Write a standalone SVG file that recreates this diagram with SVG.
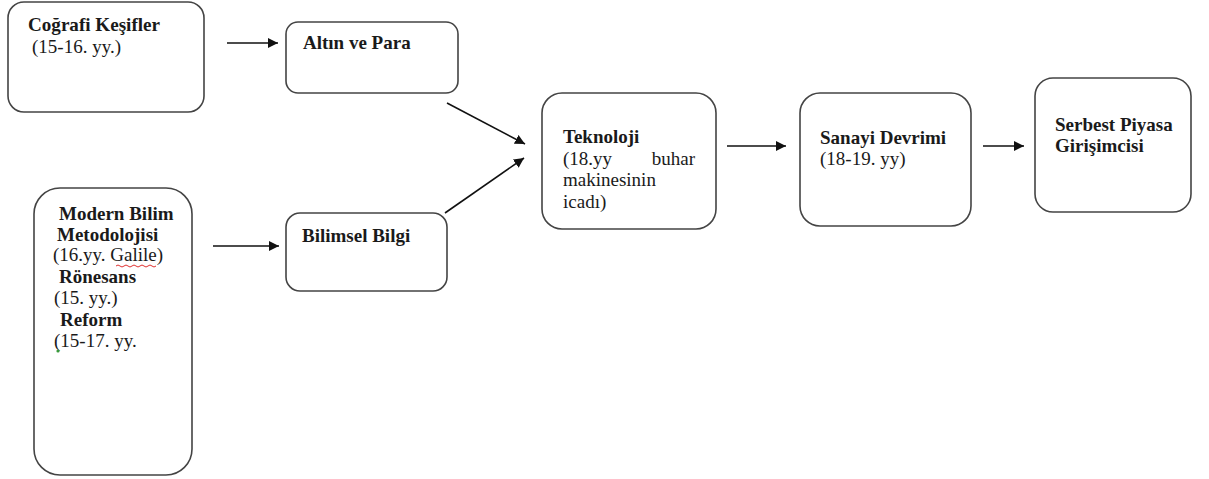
<svg xmlns="http://www.w3.org/2000/svg" width="1209" height="479" viewBox="0 0 1209 479">
<defs>
<marker id="ah" viewBox="0 0 10 10" refX="10" refY="5" markerWidth="10" markerHeight="10" markerUnits="userSpaceOnUse" orient="auto">
<path d="M0,0 L10,5 L0,10 z" fill="#111"/>
</marker>
</defs>
<rect width="1209" height="479" fill="#fff"/>
<g id="connectors" stroke="#111" stroke-width="1.6" fill="none" marker-end="url(#ah)">
<line x1="227" y1="43" x2="278" y2="43"/>
<line x1="213" y1="246" x2="279" y2="246"/>
<line x1="447" y1="103" x2="525" y2="144"/>
<line x1="445" y1="213" x2="524" y2="158"/>
<line x1="727" y1="146" x2="786" y2="146"/>
<line x1="983" y1="146" x2="1024" y2="146"/>
</g>
<g id="nodes" font-family="Liberation Serif" font-size="19" fill="#1a1a1a">
<g id="n-cografi">
<rect x="8" y="2" width="196" height="110" rx="16" fill="#fff" stroke="#444" stroke-width="1.6"/>
<text x="28" y="31" font-weight="bold" textLength="132" lengthAdjust="spacingAndGlyphs">Coğrafi Keşifler</text>
<text x="32" y="53">(15-16. yy.)</text>
</g>
<g id="n-altin">
<rect x="286" y="22" width="172" height="71" rx="12" fill="#fff" stroke="#444" stroke-width="1.6"/>
<text x="303" y="49" font-weight="bold">Altın ve Para</text>
</g>
<g id="n-modern">
<rect x="34" y="188" width="158" height="287" rx="26" fill="#fff" stroke="#444" stroke-width="1.6"/>
<text x="59" y="220" font-weight="bold">Modern Bilim</text>
<text x="57" y="241" font-weight="bold">Metodolojisi</text>
<text x="53" y="261">(16.yy. Galile)</text>
<path d="M116,266 q2,-2 4,0 t4,0 t4,0 t4,0 t4,0 t4,0 t4,0 t4,0 t4,0 t4,0" fill="none" stroke="#e03030" stroke-width="1"/>
<text x="59" y="283" font-weight="bold">Rönesans</text>
<text x="54" y="304">(15. yy.)</text>
<text x="60" y="326" font-weight="bold">Reform</text>
<text x="54" y="347">(15-17. yy.</text>
<circle cx="58" cy="351" r="1.6" fill="#3a9a3a"/>
</g>
<g id="n-bilimsel">
<rect x="286" y="213" width="161" height="78" rx="14" fill="#fff" stroke="#444" stroke-width="1.6"/>
<text x="302" y="242" font-weight="bold">Bilimsel Bilgi</text>
</g>
<g id="n-teknoloji">
<rect x="542" y="93" width="174" height="136" rx="20" fill="#fff" stroke="#444" stroke-width="1.6"/>
<text x="563" y="143" font-weight="bold">Teknoloji</text>
<text><tspan x="563" y="165">(18.yy</tspan><tspan x="695" y="165" text-anchor="end">buhar</tspan></text>
<text x="563" y="186">makinesinin</text>
<text x="563" y="208">icadı)</text>
</g>
<g id="n-sanayi">
<rect x="800" y="93" width="171" height="133" rx="20" fill="#fff" stroke="#444" stroke-width="1.6"/>
<text x="820" y="144" font-weight="bold">Sanayi Devrimi</text>
<text x="820" y="165">(18-19. yy)</text>
</g>
<g id="n-serbest">
<rect x="1035" y="78" width="156" height="134" rx="18" fill="#fff" stroke="#444" stroke-width="1.6"/>
<text x="1055" y="131" font-weight="bold">Serbest Piyasa</text>
<text x="1055" y="152" font-weight="bold">Girişimcisi</text>
</g>
</g>
</svg>
